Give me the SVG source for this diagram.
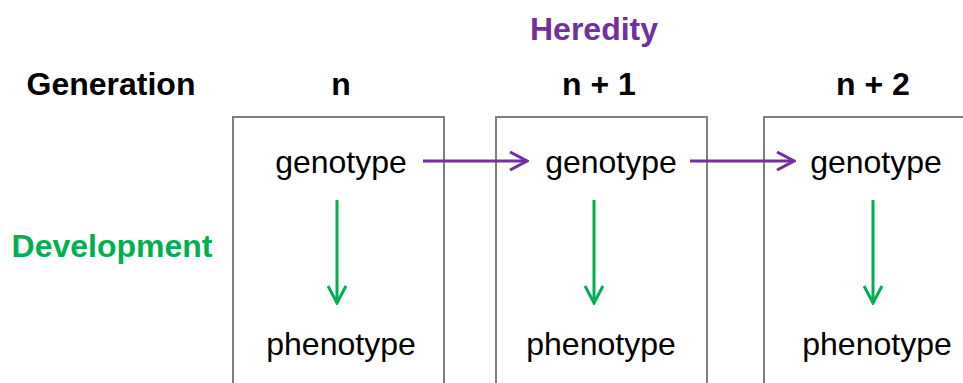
<svg xmlns="http://www.w3.org/2000/svg" width="963" height="383" viewBox="0 0 963 383">
<defs>
<style>
.box{fill:#fff;stroke:#7f7f7f;stroke-width:2}
.t{font-family:"Liberation Sans",Arial,sans-serif;font-size:32px;fill:#000;text-anchor:middle}
.h{font-family:"Liberation Sans",Arial,sans-serif;font-size:32px;font-weight:bold;text-anchor:middle}
.pur{stroke:#7030a0;stroke-width:3;fill:none}
.grn{stroke:#00b050;stroke-width:3;fill:none}
</style>
<marker id="ap" viewBox="0 0 20 20" refX="18" refY="10" markerWidth="20" markerHeight="20" markerUnits="userSpaceOnUse" orient="auto"><path d="M1,1 L18,10 L1,19" fill="none" stroke="#7030a0" stroke-width="3"/></marker>
<marker id="ag" viewBox="0 0 20 20" refX="18" refY="10" markerWidth="20" markerHeight="20" markerUnits="userSpaceOnUse" orient="auto"><path d="M1,1 L18,10 L1,19" fill="none" stroke="#00b050" stroke-width="3"/></marker>
</defs>
<g id="labels">
<text class="h" x="594" y="40" fill="#7030a0">Heredity</text>
<text class="h" x="111" y="95" fill="#000">Generation</text>
<text class="h" x="341" y="95" fill="#000">n</text>
<text class="h" x="599" y="95" fill="#000">n + 1</text>
<text class="h" x="873" y="95" fill="#000">n + 2</text>
<text class="h" x="112" y="257" fill="#00b050">Development</text>
</g>
<g id="gen-n">
<rect class="box" x="233" y="117" width="211" height="280"/>
<text class="t" x="341" y="173">genotype</text>
<text class="t" x="341" y="355">phenotype</text>
</g>
<g id="gen-n1">
<rect class="box" x="496" y="117" width="211" height="280"/>
<text class="t" x="611" y="173">genotype</text>
<text class="t" x="601" y="355">phenotype</text>
</g>
<g id="gen-n2">
<rect class="box" x="764" y="117" width="211" height="280"/>
<text class="t" x="876" y="173">genotype</text>
<text class="t" x="877" y="355">phenotype</text>
</g>
<g id="connectors">
<line class="pur" x1="423" y1="161" x2="527" y2="161" marker-end="url(#ap)"/>
<line class="pur" x1="690" y1="161" x2="794" y2="161" marker-end="url(#ap)"/>
<line class="grn" x1="337" y1="200" x2="337" y2="303" marker-end="url(#ag)"/>
<line class="grn" x1="594" y1="200" x2="594" y2="303" marker-end="url(#ag)"/>
<line class="grn" x1="873" y1="200" x2="873" y2="303" marker-end="url(#ag)"/>
</g>
</svg>
